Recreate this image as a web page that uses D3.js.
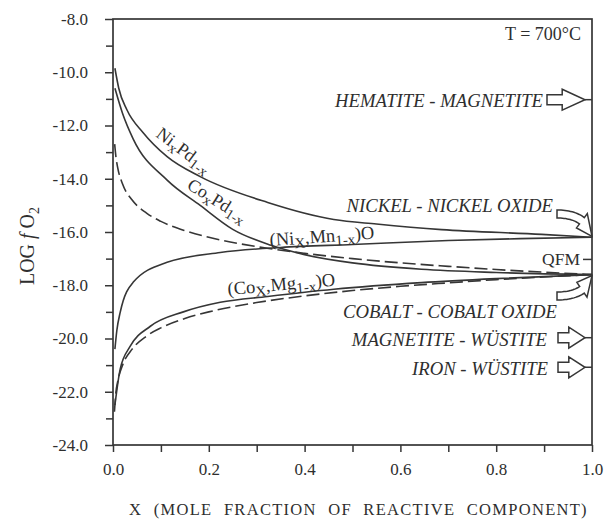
<!DOCTYPE html>
<html>
<head>
<meta charset="utf-8">
<script src="https://cdn.jsdelivr.net/npm/d3@7"></script>
<style>
  html, body { margin: 0; padding: 0; background: #fff; }
  svg { display: block; }
  svg text { font-family: "Liberation Serif", "Times New Roman", "DejaVu Serif", serif; fill: #2e2e2e; }
</style>
</head>
<body>
<svg id="chart" width="609" height="520"></svg>
<script>
// ---------------- DATA ----------------
const xTicks = [0, 0.2, 0.4, 0.6, 0.8, 1.0];
const xTickLabels = ["0.0", "0.2", "0.4", "0.6", "0.8", "1.0"];
const xMinorTicks = [0.1, 0.3, 0.5, 0.7, 0.9];
const yTicks = [-8, -10, -12, -14, -16, -18, -20, -22, -24];
const yTickLabels = ["-8.0", "-10.0", "-12.0", "-14.0", "-16.0", "-18.0", "-20.0", "-22.0", "-24.0"];
const yMinorTicks = [-9, -11, -13, -15, -17, -19, -21, -23];

// series: [X, log fO2]
const niPd = [[0.004,-9.85],[0.012,-10.6],[0.029,-11.41],[0.063,-12.27],[0.113,-13.17],[0.182,-13.92],
  [0.323,-14.89],[0.461,-15.53],[0.55,-15.7],[0.686,-15.91],[0.895,-16.09],[1.0,-16.2]];
const coPd = [[0.004,-10.6],[0.02,-11.55],[0.042,-12.5],[0.113,-14.05],[0.182,-15.0],[0.25,-15.9],
  [0.33,-16.5],[0.4,-16.85],[0.5,-17.16],[0.644,-17.4],[0.8,-17.52],[1.0,-17.6]];
const coIdealMetal = [[0.0035,-12.7],[0.006,-13.16],[0.01,-13.6],[0.02,-14.2],[0.04,-14.8],[0.07,-15.29],
  [0.1,-15.6],[0.15,-15.95],[0.2,-16.2],[0.3,-16.55],[0.4,-16.8],[0.5,-17.0],[0.6,-17.16],[0.7,-17.29],
  [0.8,-17.41],[0.9,-17.51],[1.0,-17.6]];
const niMnO = [[0.004,-20.4],[0.008,-19.7],[0.015,-19.02],[0.042,-17.89],[0.113,-17.14],[0.224,-16.77],
  [0.35,-16.58],[0.5,-16.47],[0.7,-16.32],[0.85,-16.25],[1.0,-16.2]];
const coMgO = [[0.004,-22.5],[0.015,-21.15],[0.036,-20.29],[0.078,-19.54],[0.147,-19.0],[0.224,-18.64],
  [0.323,-18.42],[0.461,-18.15],[0.644,-17.9],[0.8,-17.75],[1.0,-17.6]];
const coIdealOxide = [[0.003,-22.75],[0.006,-22.04],[0.01,-21.6],[0.02,-21.0],[0.04,-20.4],[0.07,-19.91],
  [0.1,-19.6],[0.15,-19.25],[0.2,-19.0],[0.3,-18.65],[0.4,-18.4],[0.5,-18.2],[0.6,-18.04],[0.7,-17.91],
  [0.8,-17.79],[0.9,-17.69],[1.0,-17.6]];

// buffers on right axis (straight arrows)
const bufferNames = ["HEMATITE - MAGNETITE", "MAGNETITE - WÜSTITE", "IRON - WÜSTITE"];
const bufferValues = [-11.03, -19.97, -21.08];
const qfmValue = -17.03;
const nnoValue = -16.2;
const cocoValue = -17.6;

// ---------------- CHART ----------------
const svg = d3.select("#chart");
const x = d3.scaleLinear().domain([0, 1]).range([113, 592]);
const y = d3.scaleLinear().domain([-24, -8]).range([445, 19]);
const ink = "#363636";
const serif = '"Liberation Serif", "Times New Roman", serif';

// frame
svg.append("rect").attr("x", x(0)).attr("y", y(-8)).attr("width", x(1) - x(0)).attr("height", y(-24) - y(-8))
  .attr("fill", "none").attr("stroke", ink).attr("stroke-width", 1.7);

// y axis
const yAx = svg.append("g").attr("transform", `translate(${x(0)},0)`)
  .call(d3.axisLeft(y).tickValues(yTicks).tickFormat((d, i) => yTickLabels[i]).tickSize(8).tickPadding(17));
yAx.attr("font-family", null).attr("font-size", null);
yAx.select(".domain").remove();
yAx.selectAll("line").attr("stroke", ink).attr("stroke-width", 1.5);
yAx.selectAll("text").style("font-family", serif).style("font-size", "17px").attr("fill", "#2e2e2e");
const yMin = svg.append("g").attr("transform", `translate(${x(0)},0)`)
  .call(d3.axisLeft(y).tickValues(yMinorTicks).tickFormat("").tickSize(7));
yMin.select(".domain").remove();
yMin.selectAll("line").attr("stroke", ink).attr("stroke-width", 1.5);

// x axis
const xAx = svg.append("g").attr("transform", `translate(0,${y(-24)})`)
  .call(d3.axisBottom(x).tickValues(xTicks).tickFormat((d, i) => xTickLabels[i]).tickSize(7));
xAx.attr("font-family", null).attr("font-size", null);
xAx.select(".domain").remove();
xAx.selectAll("line").attr("stroke", ink).attr("stroke-width", 1.5);
xAx.selectAll("text").attr("y", 30).attr("dy", 0).style("font-family", serif).style("font-size", "17px").attr("fill", "#2e2e2e");
const xMin = svg.append("g").attr("transform", `translate(0,${y(-24)})`)
  .call(d3.axisBottom(x).tickValues(xMinorTicks).tickFormat("").tickSize(7));
xMin.select(".domain").remove();
xMin.selectAll("line").attr("stroke", ink).attr("stroke-width", 1.5);

// axis titles
svg.append("text").attr("x", (x(0) + x(1)) / 2 + 6).attr("y", 515).attr("text-anchor", "middle")
  .style("font-size", "16.5px").style("letter-spacing", "1.3px").style("word-spacing", "6px")
  .text("X (MOLE FRACTION OF REACTIVE COMPONENT)");
const yt = svg.append("text").attr("transform", "translate(34,246) rotate(-90)").attr("text-anchor", "middle")
  .style("font-size", "20px");
yt.append("tspan").text("LOG ");
yt.append("tspan").style("font-style", "italic").text("f");
yt.append("tspan").text(" O");
yt.append("tspan").attr("dy", 5).style("font-size", "14px").text("2");

// curves
const line = d3.line().x(d => x(d[0])).y(d => y(d[1])).curve(d3.curveMonotoneX);
const series = [
  { data: niPd, dash: null },
  { data: coPd, dash: null },
  { data: niMnO, dash: null },
  { data: coMgO, dash: null },
  { data: coIdealMetal, dash: "13,5" },
  { data: coIdealOxide, dash: "13,5" }
];
svg.append("g").selectAll("path").data(series).join("path")
  .attr("d", d => line(d.data)).attr("fill", "none").attr("stroke", ink).attr("stroke-width", 1.6)
  .attr("stroke-dasharray", d => d.dash);

// curve labels (with subscripts)
function subLabel(tx, ty, rot, parts, size) {
  const t = svg.append("text").attr("transform", `translate(${tx},${ty}) rotate(${rot})`).style("font-size", size + "px");
  let shift = 0;
  parts.forEach(p => {
    const target = p[1] ? 4 : 0;
    t.append("tspan").attr("dy", target - shift).style("font-size", p[1] ? (size * 0.8) + "px" : null).text(p[0]);
    shift = target;
  });
}
subLabel(155, 136, 37, [["Ni",0],["x",1],["Pd",0],["1-x",1]], 18);
subLabel(186, 188, 32, [["Co",0],["x",1],["Pd",0],["1-x",1]], 18);
subLabel(270, 246, -4, [["(Ni",0],["X",1],[",Mn",0],["1-x",1],[")O",0]], 18.5);
subLabel(228, 295, -5, [["(Co",0],["X",1],[",Mg",0],["1-x",1],[")O",0]], 18.5);

// annotations
svg.append("text").attr("x", 581).attr("y", 40).attr("text-anchor", "end").style("font-size", "18px").text("T = 700°C");
function itText(xx, yy, s) {
  svg.append("text").attr("x", xx).attr("y", yy).attr("text-anchor", "end")
    .style("font-style", "italic").style("font-size", "18.7px").text(s);
}
itText(543, 107, bufferNames[0]);
itText(553, 212, "NICKEL - NICKEL OXIDE");
itText(557, 318, "COBALT - COBALT OXIDE");
itText(547, 346, bufferNames[1]);
itText(548, 375, bufferNames[2]);
svg.append("text").attr("x", 580).attr("y", y(qfmValue) + 6).attr("text-anchor", "end").style("font-size", "17.5px").text("QFM");
svg.append("line").attr("x1", 583).attr("x2", x(1)).attr("y1", y(qfmValue)).attr("y2", y(qfmValue))
  .attr("stroke", ink).attr("stroke-width", 1.5);

// hollow arrows
function bez(p0, p1, p2, t) {
  const a = (1 - t) * (1 - t), b = 2 * (1 - t) * t, c = t * t;
  return [a * p0[0] + b * p1[0] + c * p2[0], a * p0[1] + b * p1[1] + c * p2[1]];
}
function der(p0, p1, p2, t) {
  return [2 * (1 - t) * (p1[0] - p0[0]) + 2 * t * (p2[0] - p1[0]), 2 * (1 - t) * (p1[1] - p0[1]) + 2 * t * (p2[1] - p1[1])];
}
function arrowPath(p0, p1, p2, w, hw, th) {
  const L = [], R = [], n = 16;
  for (let i = 0; i <= n; i++) {
    const t = th * i / n, p = bez(p0, p1, p2, t), d = der(p0, p1, p2, t);
    const len = Math.hypot(d[0], d[1]), nx = -d[1] / len, ny = d[0] / len;
    L.push([p[0] + nx * w, p[1] + ny * w]); R.push([p[0] - nx * w, p[1] - ny * w]);
  }
  const p = bez(p0, p1, p2, th), d = der(p0, p1, p2, th);
  const len = Math.hypot(d[0], d[1]), nx = -d[1] / len, ny = d[0] / len;
  const pts = L.concat([[p[0] + nx * hw, p[1] + ny * hw], p2, [p[0] - nx * hw, p[1] - ny * hw]]).concat(R.reverse());
  return "M" + pts.map(q => q[0].toFixed(1) + "," + q[1].toFixed(1)).join("L") + "Z";
}
const arrowG = svg.append("g").attr("fill", "#fff").attr("stroke", ink).attr("stroke-width", 1.5).attr("stroke-linejoin", "miter");
const arrowStarts = [547, 558, 558];
bufferValues.forEach((v, i) => {
  const yy = y(v);
  const x0 = arrowStarts[i];
  arrowG.append("path").attr("d", arrowPath([x0, yy], [(x0 + 585) / 2, yy], [585, yy], 5, 10.5, 0.4));
  svg.append("line").attr("x1", 585).attr("x2", x(1)).attr("y1", yy).attr("y2", yy).attr("stroke", ink).attr("stroke-width", 1.5);
});
// curved arrows to Ni-NiO and Co-CoO end points
arrowG.append("path").attr("d", arrowPath([557, 214], [586, 214], [x(1), y(nnoValue) - 1], 4, 9, 0.55));
arrowG.append("path").attr("d", arrowPath([557, 296], [586, 296], [x(1), y(cocoValue) + 1], 4, 9, 0.55));
</script>
</body>
</html>
